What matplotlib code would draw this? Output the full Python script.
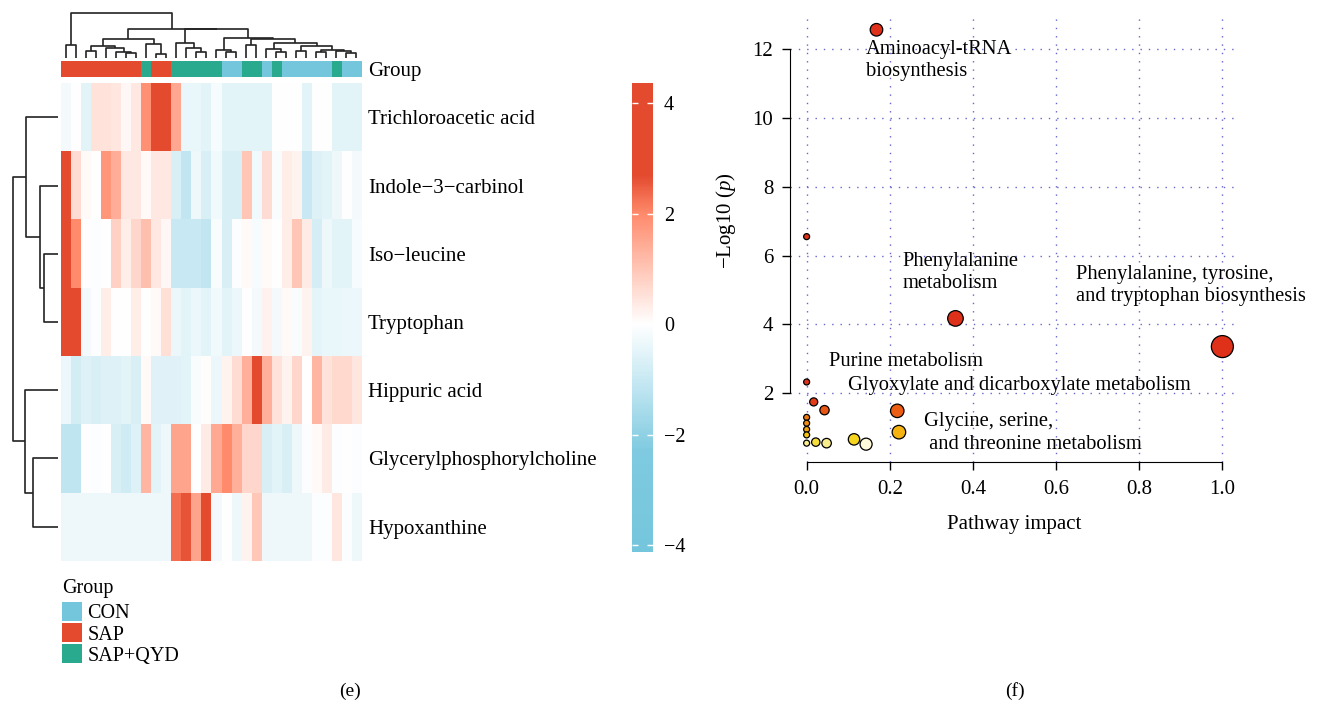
import matplotlib
matplotlib.use('Agg')
import matplotlib.pyplot as plt
import numpy as np
from matplotlib.colors import LinearSegmentedColormap, ListedColormap, Normalize

plt.rcParams['font.family'] = 'Liberation Serif'
plt.rcParams['mathtext.fontset'] = 'custom'
plt.rcParams['mathtext.rm'] = 'Liberation Serif'
plt.rcParams['mathtext.it'] = 'Liberation Serif:italic'

# ---------------- (e) heatmap data ----------------
metabolites = ['Trichloroacetic acid', 'Indole\u22123\u2212carbinol', 'Iso\u2212leucine',
               'Tryptophan', 'Hippuric acid', 'Glycerylphosphorylcholine', 'Hypoxanthine']
group_names = ['CON', 'SAP', 'SAP+QYD']
group_colors = ['#74C6DC', '#E34A2E', '#29AA8E']
# group of each sample column, in the displayed (clustered) order
sample_group = [1, 1, 1, 1, 1, 1, 1, 1, 2, 1, 1, 2, 2, 2, 2, 2, 0, 0, 2, 2,
                0, 2, 0, 0, 0, 0, 0, 2, 0, 0]

zscore = np.array([
    [-0.2, 0, -0.5, 0.5, 0.5, 0.45, 0.15, 0.4, 1.9, 3.5, 3.8, 1.5, -0.4, -0.4, -0.5,
     -0.15, -0.5, -0.5, -0.5, -0.5, -0.5, 0, 0, 0, -0.5, 0, 0, -0.5, -0.5, -0.5],
    [3.5, 0.6, 0.1, 0, 1.8, 1.4, 0.4, 0.4, 0.1, 0.4, 0.4, -0.7, -1.1, -0.3, -0.7,
     -0.25, -0.7, -0.7, 1.0, -0.25, 0.6, -0.1, 0.3, 0.2, -1.0, -0.6, -0.5, -0.3, 0, -0.2],
    [3.5, 2.0, 0, -0.05, 0, 0.8, 0.3, 0.7, 1.1, 0.4, 0.15, -1.0, -1.0, -1.0, -1.1,
     -0.1, -0.7, -0.05, 0.1, -0.15, 0.1, 0, 0.3, 1.0, 0.35, -0.75, -0.3, -0.5, -0.5, -0.15],
    [3.5, 3.5, -0.2, -0.05, 0.3, 0.02, 0.02, 0.3, 0, 0.1, 0.55, -0.35, -0.5, -0.35, -0.5,
     -0.25, -0.5, -0.35, 0.02, -0.2, 0.25, -0.2, 0.1, -0.1, 0.2, -0.45, -0.4, -0.4, -0.35, -0.35],
    [-0.35, -0.8, -0.6, -0.7, -0.6, -0.6, -0.5, -0.7, 0.1, -0.55, -0.55, -0.55, -0.5, -0.1, 0.05,
     -0.35, 0.2, 0.6, 1.35, 3.3, 1.35, 0.5, 0.2, 0.7, 0, 1.25, 0.5, 0.65, 0.65, 0.45],
    [-1.15, -1.15, 0, -0.05, 0, -0.7, -0.85, -0.6, 1.25, -0.5, -0.3, 1.55, 1.55, 0, 0.35,
     1.45, 2.0, 1.35, 0.7, 0.7, -0.7, -0.5, -0.7, -0.3, -0.05, 0.1, 0.35, -0.05, 0.02, -0.05],
    [-0.3, -0.3, -0.3, -0.3, -0.3, -0.3, -0.3, -0.3, -0.3, -0.3, -0.3, 2.3, 2.6, 1.55, 3.0,
     -0.2, 0, -0.3, 0.2, 0.95, -0.3, -0.3, -0.3, -0.3, -0.3, -0.05, -0.05, 0.45, -0.05, -0.3],
])
zmin, zmax = -4.12, 4.36
cbar_ticks = [-4, -2, 0, 2, 4]

# dendrograms: (child a, child b, merge height), leaves numbered in display order
col_linkage = [
    (0, 1, 13), (2, 3, 7.3), (6, 7, 4.7), (5, 32, 5.7), (4, 33, 9.7), (31, 34, 12.3),
    (9, 10, 3.7), (8, 36, 13.7), (35, 37, 19), (13, 14, 6.3), (12, 39, 9.7), (11, 40, 14.7),
    (16, 17, 6.3), (15, 42, 8.5), (18, 19, 13.3), (21, 22, 6.5), (20, 45, 9), (23, 24, 7.5),
    (25, 26, 5.7), (28, 29, 5), (27, 49, 7.3), (48, 50, 8.5), (47, 51, 12.5), (46, 52, 15.5),
    (44, 53, 19.5), (43, 54, 20.3), (41, 55, 28.7), (38, 56, 29.3), (30, 57, 44.7),
]
row_linkage = [(2, 3, 14.3), (1, 7, 18), (0, 8, 32), (5, 6, 25), (4, 10, 33), (9, 11, 45)]

# ---------------- (f) pathway data ----------------
impact = [0.168, 0.0, 0.358, 1.0, 0.0, 0.017, 0.043, 0.218, 0.222, 0.0, 0.0, 0.0,
          0.0, 0.0, 0.022, 0.048, 0.114, 0.143]
neglogp = [12.57, 6.55, 4.17, 3.35, 2.32, 1.74, 1.50, 1.48, 0.86, 1.29, 1.12, 0.94,
           0.78, 0.54, 0.57, 0.54, 0.65, 0.51]
path_labels = ['Aminoacyl-tRNA\nbiosynthesis', 'Phenylalanine\nmetabolism',
               'Phenylalanine, tyrosine,\nand tryptophan biosynthesis', 'Purine metabolism',
               'Glyoxylate and dicarboxylate metabolism',
               'Glycine, serine,\n and threonine metabolism']
label_xy = [(0.143, 11.67), (0.23, 5.50), (0.648, 5.13), (0.054, 2.91), (0.099, 2.21),
            (0.282, 0.835)]

W, H = 1319, 701
fig = plt.figure(figsize=(W / 100, H / 100), dpi=100)


def px_axes(x0, y0, x1, y1):
    return fig.add_axes([x0 / W, 1 - y1 / H, (x1 - x0) / W, (y1 - y0) / H])


def draw_dendro(ax, linkage, n, top=True):
    pos = {i: i + 0.5 for i in range(n)}
    hgt = {i: 0.0 for i in range(n)}
    for k, (a, b, h) in enumerate(linkage):
        xs = [pos[a], pos[a], pos[b], pos[b]]
        ys = [hgt[a], h, h, hgt[b]]
        if top:
            ax.plot(xs, ys, color='#222222', lw=1.2, solid_capstyle='butt')
        else:
            ax.plot(ys, xs, color='#222222', lw=1.2, solid_capstyle='butt')
        pos[n + k] = (pos[a] + pos[b]) / 2
        hgt[n + k] = h
    ax.axis('off')


def zcolor(v):
    return (v - zmin) / (zmax - zmin)


cmap = LinearSegmentedColormap.from_list('bwr_p', [
    (0.0, '#74C6DC'), (zcolor(-2.3), '#7FCAE0'), (zcolor(-1.0), '#C8E9F3'),
    (zcolor(0), '#FFFFFF'), (zcolor(1.0), '#FFC6B6'), (zcolor(2.0), '#FF8A6C'),
    (zcolor(2.7), '#E34A2E'), (1.0, '#E34A2E')])

nrow, ncol = zscore.shape
FS = 15

# heatmap
ax_hm = px_axes(61, 83.3, 361, 560.7)
im = ax_hm.imshow(zscore, cmap=cmap, vmin=zmin, vmax=zmax, aspect='auto',
                  interpolation='nearest', extent=(0, ncol, nrow, 0))
ax_hm.yaxis.tick_right()
ax_hm.set_yticks(np.arange(nrow) + 0.5)
ax_hm.set_yticklabels(metabolites, fontsize=FS)
ax_hm.set_xticks([])
ax_hm.tick_params(length=0, pad=5)
for s in ax_hm.spines.values():
    s.set_visible(False)

# group annotation bar
ax_gr = px_axes(61, 61, 361, 76.7)
ax_gr.imshow([sample_group], cmap=ListedColormap(group_colors), vmin=-0.5, vmax=2.5,
             aspect='auto', interpolation='nearest', extent=(0, ncol, 1, 0))
ax_gr.yaxis.tick_right()
ax_gr.set_yticks([0.5])
ax_gr.set_yticklabels(['Group'], fontsize=FS)
ax_gr.set_xticks([])
ax_gr.tick_params(length=0, pad=5)
for s in ax_gr.spines.values():
    s.set_visible(False)

# dendrograms
ax_cd = px_axes(61, 10, 361, 58)
draw_dendro(ax_cd, col_linkage, ncol, top=True)
ax_cd.set_xlim(0, ncol)
ax_cd.set_ylim(0, 48)

ax_rd = px_axes(10, 83.3, 58, 560.7)
draw_dendro(ax_rd, row_linkage, nrow, top=False)
ax_rd.set_xlim(48, 0)
ax_rd.set_ylim(nrow, 0)

# colour bar
cax = px_axes(632, 83, 653, 552)
cb = fig.colorbar(im, cax=cax, ticks=cbar_ticks)
cb.outline.set_visible(False)
cax.tick_params(direction='in', color='white', length=4.3, width=1, left=True, right=True,
                labelright=True, labelleft=False, labelsize=14.5, pad=8)

# group legend
ax_lg = px_axes(62, 601, 82, 664)
ax_lg.barh(np.arange(3) + 0.5, 1, height=0.9, color=group_colors)
ax_lg.set_ylim(3, 0)
ax_lg.set_xlim(0, 1)
ax_lg.yaxis.tick_right()
ax_lg.set_yticks(np.arange(3) + 0.5)
ax_lg.set_yticklabels(group_names, fontsize=14.5)
ax_lg.tick_params(length=0, pad=4)
ax_lg.set_xticks([])
for s in ax_lg.spines.values():
    s.set_visible(False)
ax_lg.set_title('Group', loc='left', fontsize=14.5, pad=6)

# ---------------- (f) pathway impact plot ----------------
heat = LinearSegmentedColormap.from_list('heatp', [
    (0.0, '#FFFDF0'), (0.03 / 1.9, '#FAF0A0'), (0.07 / 1.9, '#F6DE30'), (0.2 / 1.9, '#F4D010'),
    (0.32 / 1.9, '#F5BC10'), (0.42 / 1.9, '#F3A412'), (0.6 / 1.9, '#F19012'),
    (0.8 / 1.9, '#EE7812'), (0.99 / 1.9, '#EA5C12'), (1.02 / 1.9, '#E64614'),
    (1.3 / 1.9, '#E23A16'), (1.0, '#DF3019')])
pnorm = Normalize(0.5, 2.4, clip=True)

ax = px_axes(790, 15, 1239, 461.7)
ax.set_xlim(-0.04, 1.04)
ax.set_ylim(0, 13)
ax.set_axisbelow(True)
ax.grid(True, color='#6666CC', linestyle=(0, (1, 5)), linewidth=1.0)

radius = 3 + 8 * np.sqrt(np.array(impact))
sizes = (2 * radius * 0.72) ** 2
ax.scatter(impact, neglogp, s=sizes, c=heat(pnorm(np.array(neglogp))),
           edgecolors='black', linewidths=0.9, zorder=3, clip_on=False)

for txt, (tx, ty) in zip(path_labels, label_xy):
    ax.text(tx, ty, txt, ha='left', va='center', fontsize=14.8, linespacing=1.25, zorder=4)

for side in ['top', 'right']:
    ax.spines[side].set_visible(False)
ax.spines['left'].set_bounds(2, 12)
ax.spines['bottom'].set_bounds(0, 1)
ax.set_yticks([2, 4, 6, 8, 10, 12])
ax.set_xticks([0, 0.2, 0.4, 0.6, 0.8, 1.0])
ax.set_xticklabels(['0.0', '0.2', '0.4', '0.6', '0.8', '1.0'])
ax.tick_params(direction='out', length=6, width=1, labelsize=15)
ax.tick_params(axis='x', pad=7)
ax.tick_params(axis='y', pad=6)
ax.set_xlabel('Pathway impact', fontsize=15, labelpad=12)
ax.set_ylabel('\u2212Log10 ($\\it{p}$)', fontsize=15)
ax.yaxis.set_label_coords(-0.115, 0.54)

fig.text(350 / W, 1 - 691 / H, '(e)', ha='center', va='center', fontsize=14)
fig.text(1015 / W, 1 - 691 / H, '(f)', ha='center', va='center', fontsize=14)

fig.savefig('out.png', dpi=100)
